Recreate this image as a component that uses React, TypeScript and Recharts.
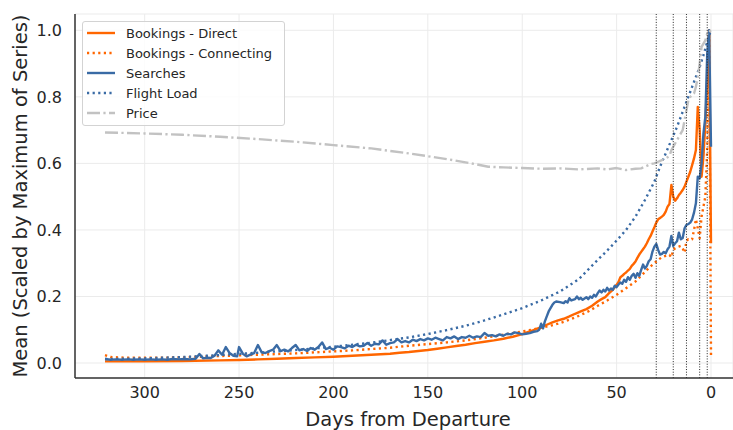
import React from "react"
import { LineChart, Line, XAxis, YAxis, CartesianGrid, Legend, ReferenceLine, Label } from "recharts"

const FONT = "'DejaVu Sans', sans-serif"
const TEXT = "#262626"

const xTicks = [0, 50, 100, 150, 200, 250, 300]
const yTicks = [0, 0.2, 0.4, 0.6, 0.8, 1.0]
const markerDays = [29, 20, 13, 6, 2]

// [days from departure, mean scaled by max]
const bookingsDirect: [number, number][] = [
  [321, 0.005], [300, 0.005], [280, 0.006], [260, 0.008], [250, 0.009], [240, 0.011],
  [230, 0.013], [220, 0.015], [210, 0.017], [200, 0.019], [190, 0.022], [180, 0.025],
  [170, 0.028], [165, 0.031], [160, 0.033], [155, 0.036], [150, 0.039], [145, 0.043],
  [140, 0.047], [135, 0.051], [130, 0.055], [125, 0.06], [120, 0.064], [115, 0.068],
  [110, 0.073], [105, 0.079], [100, 0.087], [95, 0.097], [90, 0.108], [87, 0.115],
  [84, 0.122], [81, 0.128], [78, 0.133], [75, 0.14], [72, 0.148], [69, 0.155],
  [66, 0.162], [63, 0.172], [60, 0.185], [58, 0.192], [56, 0.198], [54, 0.21],
  [52, 0.22], [50, 0.235], [49, 0.244], [48, 0.258], [47, 0.262], [46, 0.268],
  [45, 0.272], [44, 0.278], [43, 0.283], [42, 0.292], [41, 0.298], [40, 0.305],
  [39, 0.316], [38, 0.326], [37, 0.334], [36, 0.342], [35, 0.35], [34, 0.36],
  [33, 0.372], [32, 0.382], [31, 0.395], [30, 0.408], [29, 0.422], [28, 0.432],
  [27, 0.436], [26, 0.44], [25, 0.445], [24, 0.455], [23, 0.47], [22, 0.478],
  [21, 0.535], [20, 0.5], [19, 0.488], [18, 0.495], [17, 0.505], [16, 0.512],
  [15, 0.52], [14, 0.53], [13, 0.545], [12, 0.56], [11, 0.575], [10, 0.595],
  [9, 0.615], [8, 0.64], [7, 0.77], [6, 0.7], [5, 0.56], [4, 0.62], [3, 0.72],
  [2, 0.85], [1, 1.0], [0, 0.36],
]

const bookingsConnecting: [number, number][] = [
  [321, 0.024], [318, 0.018], [310, 0.016], [300, 0.016], [290, 0.016], [280, 0.017],
  [270, 0.019], [260, 0.021], [250, 0.023], [240, 0.025], [230, 0.027], [220, 0.029],
  [210, 0.032], [200, 0.035], [190, 0.038], [180, 0.042], [170, 0.046], [165, 0.049],
  [160, 0.052], [150, 0.057], [140, 0.062], [130, 0.068], [120, 0.076], [110, 0.085],
  [100, 0.095], [95, 0.1], [90, 0.106], [85, 0.112], [80, 0.12], [75, 0.13],
  [70, 0.142], [65, 0.155], [60, 0.172], [55, 0.188], [50, 0.205], [45, 0.225],
  [40, 0.245], [36, 0.268], [33, 0.285], [30, 0.3], [28, 0.31], [26, 0.318],
  [24, 0.322], [22, 0.325], [21, 0.318], [20, 0.34], [19, 0.345], [18, 0.348],
  [17, 0.35], [16, 0.352], [15, 0.345], [14, 0.332], [13, 0.368], [12, 0.372],
  [11, 0.37], [10, 0.372], [9, 0.4], [8, 0.432], [7, 0.405], [6, 0.375],
  [5, 0.44], [4, 0.47], [3, 0.5], [2, 0.64], [1, 1.0], [0, 0.018],
]

const searches: [number, number][] = [
  [321, 0.012], [318, 0.01], [315, 0.011], [312, 0.01], [309, 0.011], [306, 0.01],
  [303, 0.011], [300, 0.01], [297, 0.011], [294, 0.01], [291, 0.011], [288, 0.01],
  [285, 0.012], [282, 0.011], [279, 0.012], [276, 0.011], [273, 0.013], [271, 0.027],
  [269, 0.014], [267, 0.016], [265, 0.015], [263, 0.022], [261, 0.038], [259, 0.025],
  [257, 0.048], [255, 0.03], [253, 0.022], [251, 0.02], [250, 0.048], [248, 0.028],
  [246, 0.02], [244, 0.025], [242, 0.03], [240, 0.054], [238, 0.032], [236, 0.03],
  [234, 0.036], [232, 0.04], [230, 0.054], [228, 0.036], [226, 0.04], [224, 0.035],
  [222, 0.045], [220, 0.054], [218, 0.038], [216, 0.042], [214, 0.036], [212, 0.045],
  [210, 0.04], [208, 0.048], [206, 0.062], [204, 0.042], [202, 0.046], [200, 0.04],
  [198, 0.05], [196, 0.048], [194, 0.044], [192, 0.052], [190, 0.048], [188, 0.055],
  [186, 0.05], [184, 0.052], [182, 0.06], [180, 0.052], [178, 0.058], [176, 0.056],
  [174, 0.068], [172, 0.055], [170, 0.06], [168, 0.062], [166, 0.072], [164, 0.062],
  [162, 0.066], [160, 0.062], [158, 0.07], [156, 0.066], [154, 0.072], [152, 0.068],
  [150, 0.074], [148, 0.07], [146, 0.076], [144, 0.072], [142, 0.068], [140, 0.078],
  [138, 0.074], [136, 0.08], [134, 0.072], [132, 0.078], [130, 0.076], [128, 0.082],
  [126, 0.076], [124, 0.08], [122, 0.078], [120, 0.09], [118, 0.082], [116, 0.084],
  [114, 0.08], [112, 0.086], [110, 0.082], [108, 0.088], [106, 0.086], [104, 0.092],
  [102, 0.09], [100, 0.086], [98, 0.088], [96, 0.09], [94, 0.094], [92, 0.096],
  [91, 0.1], [90, 0.118], [89, 0.104], [88, 0.125], [87, 0.14], [86, 0.155],
  [85, 0.165], [84, 0.175], [83, 0.182], [82, 0.185], [80, 0.183], [78, 0.18],
  [77, 0.186], [76, 0.182], [75, 0.195], [74, 0.188], [72, 0.192], [71, 0.2],
  [70, 0.192], [69, 0.196], [68, 0.19], [66, 0.198], [65, 0.192], [64, 0.2],
  [63, 0.196], [62, 0.205], [61, 0.2], [60, 0.21], [59, 0.218], [58, 0.212],
  [57, 0.22], [56, 0.215], [55, 0.226], [54, 0.218], [53, 0.224], [52, 0.22],
  [51, 0.232], [50, 0.228], [49, 0.236], [48, 0.242], [47, 0.238], [46, 0.25],
  [45, 0.244], [44, 0.258], [43, 0.25], [42, 0.262], [41, 0.268], [40, 0.256],
  [39, 0.27], [38, 0.262], [37, 0.28], [36, 0.296], [35, 0.284], [34, 0.292],
  [33, 0.306], [32, 0.312], [31, 0.335], [30, 0.35], [29, 0.358], [28, 0.34],
  [27, 0.326], [26, 0.328], [25, 0.334], [24, 0.33], [23, 0.342], [22, 0.35],
  [21, 0.382], [20, 0.352], [19, 0.36], [18, 0.366], [17, 0.392], [16, 0.372],
  [15, 0.376], [14, 0.405], [13, 0.415], [12, 0.418], [11, 0.422], [10, 0.432],
  [9, 0.452], [8, 0.48], [7, 0.56], [6, 0.555], [5, 0.6], [4, 0.69], [3, 0.74],
  [2, 0.93], [1, 1.0], [0, 0.65],
]

const flightLoad: [number, number][] = [
  [321, 0.012], [300, 0.014], [280, 0.018], [260, 0.024], [240, 0.031], [220, 0.039],
  [200, 0.049], [180, 0.061], [160, 0.077], [150, 0.087], [140, 0.099], [130, 0.112],
  [120, 0.128], [110, 0.146], [100, 0.165], [90, 0.188], [80, 0.215], [70, 0.252],
  [60, 0.31], [55, 0.338], [50, 0.368], [45, 0.4], [40, 0.44], [35, 0.49],
  [30, 0.545], [27, 0.59], [24, 0.63], [21, 0.67], [18, 0.71], [15, 0.755],
  [12, 0.8], [10, 0.83], [8, 0.86], [6, 0.89], [4, 0.925], [3, 0.945],
  [2, 0.965], [1, 0.985], [0, 1.0],
]

const price: [number, number][] = [
  [321, 0.693], [300, 0.69], [280, 0.686], [260, 0.68], [240, 0.673], [220, 0.665],
  [200, 0.655], [180, 0.645], [160, 0.63], [140, 0.613], [125, 0.598], [118, 0.59],
  [110, 0.588], [100, 0.586], [90, 0.584], [80, 0.585], [70, 0.582], [60, 0.585],
  [55, 0.582], [50, 0.586], [45, 0.58], [40, 0.584], [37, 0.585], [35, 0.59],
  [32, 0.598], [30, 0.6], [28, 0.605], [26, 0.61], [24, 0.615], [22, 0.622],
  [21, 0.64], [20, 0.65], [19, 0.66], [18, 0.67], [17, 0.68], [16, 0.69],
  [15, 0.7], [14, 0.73], [13, 0.76], [12, 0.79], [11, 0.8], [10, 0.805],
  [9, 0.81], [8, 0.83], [7, 0.86], [6, 0.9], [5, 0.95], [4, 0.96], [3, 0.97],
  [2, 0.99], [1, 1.0], [0, 0.995],
]

const ORANGE = "#ff6600"
const BLUE = "#3a6ba5"
const GRAY = "#c2c2c2"

const series = [
  { name: "Bookings - Direct", points: bookingsDirect, color: ORANGE, dash: undefined },
  { name: "Bookings - Connecting", points: bookingsConnecting, color: ORANGE, dash: "2.2 3.4" },
  { name: "Searches", points: searches, color: BLUE, dash: undefined },
  { name: "Flight Load", points: flightLoad, color: BLUE, dash: "2.2 3.4" },
  { name: "Price", points: price, color: GRAY, dash: "13 3.4 2.2 3.4" },
]

const xDomain = [-11.65, 336.9]
const yDomain = [-0.045, 1.049]

const toRows = (pts: [number, number][]) => pts.map(([d, v]) => ({ d, v }))

const renderLegend = () => (
  <div
    style={{
      background: "rgba(255,255,255,0.8)",
      border: "1px solid #d3d3d3",
      borderRadius: 3,
      padding: "1px 8px 2px 4px",
      width: 203,
      boxSizing: "border-box",
      fontFamily: FONT,
      fontSize: 13,
      color: TEXT,
    }}
  >
    {series.map((s) => (
      <div key={s.name} style={{ display: "flex", alignItems: "center", height: 20, whiteSpace: "nowrap" }}>
        <svg width={28} height={6} style={{ marginRight: 11, flexShrink: 0 }}>
          <line x1={0} y1={3} x2={28} y2={3} stroke={s.color} strokeWidth={2.4} strokeDasharray={s.dash} />
        </svg>
        <span>{s.name}</span>
      </div>
    ))}
  </div>
)

export default function App() {
  const tickStyle = { fill: TEXT, fontSize: 16, fontFamily: FONT }
  return (
    <div style={{ position: "absolute", left: 0, top: 0, background: "#fff" }}>
      <LineChart width={733} height={430} margin={{ top: 14, right: 0, bottom: 0, left: 15 }}>
        <CartesianGrid stroke="#ebebeb" strokeWidth={1} />
        <XAxis
          dataKey="d"
          type="number"
          domain={xDomain}
          reversed
          allowDataOverflow
          ticks={xTicks}
          height={52}
          tickLine={false}
          tickSize={6}
          tickMargin={3}
          tick={tickStyle}
          axisLine={{ stroke: "#333", strokeWidth: 1.5 }}
        >
          <Label
            value="Days from Departure"
            position="insideBottom"
            offset={4}
            dx={4}
            style={{ fill: TEXT, fontSize: 19.5, fontFamily: FONT }}
          />
        </XAxis>
        <XAxis
          xAxisId="top"
          orientation="top"
          dataKey="d"
          type="number"
          domain={xDomain}
          reversed
          allowDataOverflow
          height={0}
          tick={false}
          tickLine={false}
          axisLine={{ stroke: "#333", strokeWidth: 1.5 }}
        />
        <YAxis
          type="number"
          domain={yDomain}
          allowDataOverflow
          ticks={yTicks}
          width={60}
          tickLine={false}
          tickSize={6}
          tickMargin={7}
          tick={tickStyle}
          tickFormatter={(v: number) => v.toFixed(1)}
          axisLine={{ stroke: "#333", strokeWidth: 1.5 }}
        >
          <Label
            value="Mean (Scaled by Maximum of Series)"
            angle={-90}
            position="insideLeft"
            offset={5}
            style={{ fill: TEXT, fontSize: 19.5, fontFamily: FONT, textAnchor: "middle" }}
          />
        </YAxis>
        {series.map((s) => (
          <Line
            key={s.name}
            name={s.name}
            data={toRows(s.points)}
            dataKey="v"
            type="linear"
            stroke={s.color}
            strokeWidth={2.4}
            strokeDasharray={s.dash}
            strokeLinejoin="round"
            dot={false}
            activeDot={false}
            isAnimationActive={false}
          />
        ))}
        {markerDays.map((d) => (
          <ReferenceLine key={d} x={d} stroke="#222" strokeWidth={1} strokeDasharray="1 1.65" />
        ))}
        <Legend
          layout="vertical"
          align="center"
          verticalAlign="middle"
          content={renderLegend}
          wrapperStyle={{ left: 82, top: 21, width: "auto" }}
        />
      </LineChart>
    </div>
  )
}
